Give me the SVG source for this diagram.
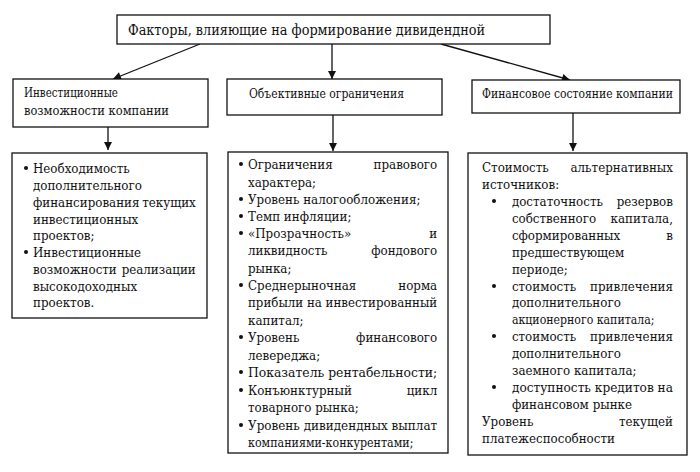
<svg xmlns="http://www.w3.org/2000/svg" width="700" height="472" viewBox="0 0 700 472">
<defs>
<marker id="ah" viewBox="0 0 10 10" refX="10" refY="5" markerWidth="9" markerHeight="8" markerUnits="userSpaceOnUse" orient="auto">
<path d="M0,0 L10,5 L0,10 z" fill="#111"/>
</marker>
</defs>
<style>
.box{fill:#fff;stroke:#111;stroke-width:1.3}
.t{font-family:'DejaVu Serif','Liberation Serif',serif;font-size:13.5px;fill:#111}
.h{font-family:'DejaVu Serif','Liberation Serif',serif;font-size:12.5px;fill:#111}
.e{text-anchor:end}
.c{stroke:#111;stroke-width:1.3;fill:none;marker-end:url(#ah)}
.b{fill:#111}
</style>
<rect width="700" height="472" fill="#fff"/>
<g id="connectors">
<line class="c" x1="200" y1="44" x2="113" y2="79"/>
<line class="c" x1="332" y1="44" x2="332" y2="79"/>
<line class="c" x1="441" y1="44" x2="570" y2="80"/>
<line class="c" x1="108" y1="127" x2="108" y2="150"/>
<line class="c" x1="333" y1="115" x2="333" y2="151"/>
<line class="c" x1="573" y1="113" x2="573" y2="151"/>
</g>
<g id="top">
<rect class="box" x="117" y="15" width="433" height="29"/>
<g transform="matrix(0.88 0 0 1 15.36 0)">
<text class="t" x="128" y="35" style="font-size:15px" textLength="405.7" lengthAdjust="spacingAndGlyphs">Факторы, влияющие на формирование дивидендной</text>
</g>
</g>
<g id="invest">
<rect class="box" x="13" y="79" width="195" height="48"/>
<g transform="matrix(0.88 0 0 1 2.88 0)">
<text class="h" x="24" y="97" textLength="106.8" lengthAdjust="spacingAndGlyphs">Инвестиционные</text>
<text class="h" x="24" y="115" textLength="164.8" lengthAdjust="spacingAndGlyphs">возможности компании</text>
</g>
</g>
<g id="objective">
<rect class="box" x="227" y="79" width="215" height="36"/>
<g transform="matrix(0.88 0 0 1 29.88 0)">
<text class="h" x="249" y="98" textLength="176.1" lengthAdjust="spacingAndGlyphs">Объективные ограничения</text>
</g>
</g>
<g id="financial">
<rect class="box" x="472" y="80" width="208" height="33"/>
<g transform="matrix(0.88 0 0 1 57.84 0)">
<text class="h" x="482" y="98" textLength="217" lengthAdjust="spacingAndGlyphs">Финансовое состояние компании</text>
</g>
</g>
<g id="invest-list">
<rect class="box" x="12" y="153" width="195" height="165"/>
<circle class="b" cx="26" cy="168" r="2"/>
<circle class="b" cx="26" cy="252" r="2"/>
<g transform="matrix(0.88 0 0 1 3.96 0)">
<text class="t" x="33" y="173">Необходимость</text>
<text class="t" x="33" y="190">дополнительного</text>
<text class="t" x="33" y="207">финансирования</text><text class="t e" x="218" y="207">текущих</text>
<text class="t" x="33" y="224">инвестиционных</text>
<text class="t" x="33" y="240">проектов;</text>
<text class="t" x="33" y="257">Инвестиционные</text>
<text class="t" x="33" y="274">возможности</text><text class="t e" x="218" y="274">реализации</text>
<text class="t" x="33" y="291">высокодоходных</text>
<text class="t" x="33" y="307">проектов.</text>
</g>
</g>
<g id="objective-list">
<rect class="box" x="228" y="152" width="220" height="301"/>
<circle class="b" cx="241" cy="164" r="2"/>
<circle class="b" cx="241" cy="199" r="2"/>
<circle class="b" cx="241" cy="216" r="2"/>
<circle class="b" cx="241" cy="233" r="2"/>
<circle class="b" cx="241" cy="285" r="2"/>
<circle class="b" cx="241" cy="337" r="2"/>
<circle class="b" cx="241" cy="372" r="2"/>
<circle class="b" cx="241" cy="390" r="2"/>
<circle class="b" cx="241" cy="425" r="2"/>
<g transform="matrix(0.88 0 0 1 29.76 0)">
<text class="t" x="248" y="169">Ограничения</text><text class="t e" x="463" y="169">правового</text>
<text class="t" x="248" y="187">характера;</text>
<text class="t" x="248" y="204">Уровень  налогообложения;</text>
<text class="t" x="248" y="221">Темп инфляции;</text>
<text class="t" x="248" y="238">«Прозрачность»</text><text class="t e" x="463" y="238">и</text>
<text class="t" x="248" y="255">ликвидность</text><text class="t e" x="463" y="255">фондового</text>
<text class="t" x="248" y="273">рынка;</text>
<text class="t" x="248" y="290">Среднерыночная</text><text class="t e" x="463" y="290">норма</text>
<text class="t" x="248" y="307" textLength="215" lengthAdjust="spacingAndGlyphs">прибыли на инвестированный</text>
<text class="t" x="248" y="325">капитал;</text>
<text class="t" x="248" y="342">Уровень</text><text class="t e" x="463" y="342">финансового</text>
<text class="t" x="248" y="360">левереджа;</text>
<text class="t" x="248" y="377" textLength="215" lengthAdjust="spacingAndGlyphs">Показатель рентабельности;</text>
<text class="t" x="248" y="395">Конъюнктурный</text><text class="t e" x="463" y="395">цикл</text>
<text class="t" x="248" y="412">товарного рынка;</text>
<text class="t" x="248" y="430" textLength="215" lengthAdjust="spacingAndGlyphs">Уровень дивидендных выплат</text>
<text class="t" x="248" y="447" textLength="188" lengthAdjust="spacingAndGlyphs">компаниями-конкурентами;</text>
</g>
</g>
<g id="financial-list">
<rect class="box" x="468" y="153" width="219" height="302"/>
<circle class="b" cx="494" cy="201" r="2"/>
<circle class="b" cx="494" cy="286" r="2"/>
<circle class="b" cx="494" cy="336" r="2"/>
<circle class="b" cx="494" cy="387" r="2"/>
<g transform="matrix(0.88 0 0 1 57.84 0)">
<text class="t" x="482" y="172">Стоимость</text><text class="t e" x="699" y="172">альтернативных</text>
<text class="t" x="482" y="189">источников:</text>
<text class="t" x="516" y="206">достаточность</text><text class="t e" x="699" y="206">резервов</text>
<text class="t" x="516" y="223">собственного</text><text class="t e" x="699" y="223">капитала,</text>
<text class="t" x="516" y="240">сформированных</text><text class="t e" x="699" y="240">в</text>
<text class="t" x="516" y="257">предшествующем</text>
<text class="t" x="516" y="274">периоде;</text>
<text class="t" x="516" y="291">стоимость</text><text class="t e" x="699" y="291">привлечения</text>
<text class="t" x="516" y="307">дополнительного</text>
<text class="t" x="516" y="324" textLength="162" lengthAdjust="spacingAndGlyphs">акционерного капитала;</text>
<text class="t" x="516" y="341">стоимость</text><text class="t e" x="699" y="341">привлечения</text>
<text class="t" x="516" y="358">дополнительного</text>
<text class="t" x="516" y="375">заемного капитала;</text>
<text class="t" x="516" y="392" textLength="183" lengthAdjust="spacingAndGlyphs">доступность кредитов на</text>
<text class="t" x="516" y="409">финансовом рынке</text>
<text class="t" x="482" y="426">Уровень</text><text class="t e" x="699" y="426">текущей</text>
<text class="t" x="482" y="443">платежеспособности</text>
</g>
</g>
</svg>
